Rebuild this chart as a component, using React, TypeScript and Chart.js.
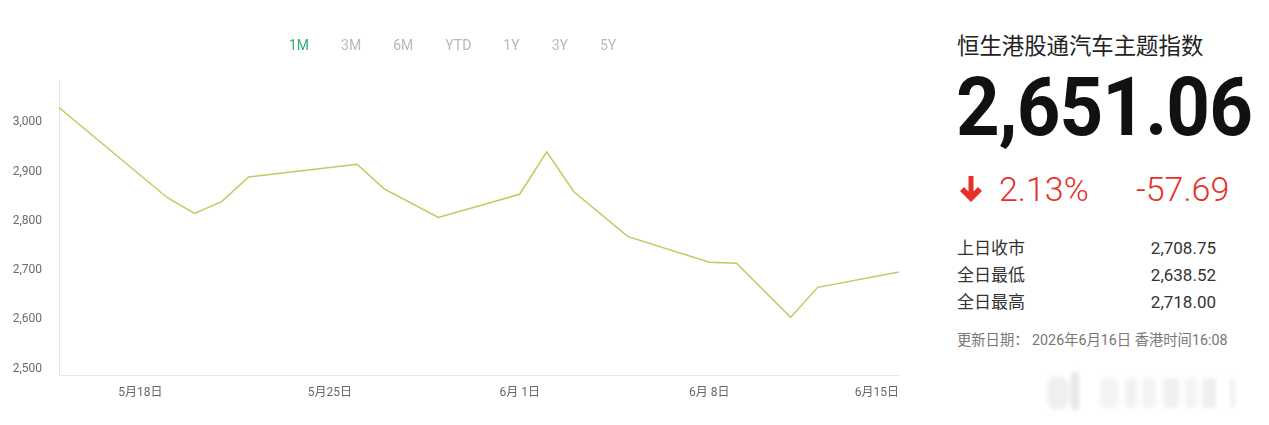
import React, { useEffect, useRef } from "react";
import { Chart, registerables } from "chart.js";

Chart.register(...registerables);

// ---- data ----
const dates: string[] = [
  "2026-05-15", "2026-05-19", "2026-05-20", "2026-05-21", "2026-05-22",
  "2026-05-26", "2026-05-27", "2026-05-29", "2026-06-01", "2026-06-02",
  "2026-06-03", "2026-06-05", "2026-06-08", "2026-06-09", "2026-06-11",
  "2026-06-12", "2026-06-15",
];
const values: number[] = [
  3030, 2847, 2815, 2839, 2889,
  2915, 2865, 2807, 2854, 2940,
  2859, 2768, 2716, 2714, 2604,
  2665, 2696,
];
const xTickDates: string[] = ["2026-05-18", "2026-05-25", "2026-06-01", "2026-06-08", "2026-06-15"];
const xTickLabels: string[] = ["5月18日", "5月25日", "6月 1日", "6月 8日", "6月15日"];
const yTickValues: number[] = [2500, 2600, 2700, 2800, 2900, 3000];
const yMin = 2487;
const yMax = 3086;

const tabs: string[] = ["1M", "3M", "6M", "YTD", "1Y", "3Y", "5Y"];
const title = "恒生港股通汽车主题指数";
const lastPrice = "2,651.06";
const changePct = "2.13%";
const changeAbs = "-57.69";
const statLabels: string[] = ["上日收市", "全日最低", "全日最高"];
const statValues: string[] = ["2,708.75", "2,638.52", "2,718.00"];
const updateText = "更新日期： 2026年6月16日 香港时间16:08";

const baseDay = Date.parse(dates[0] + "T00:00:00Z");
const dayIndex = (d: string) => Math.round((Date.parse(d + "T00:00:00Z") - baseDay) / 86400000);

const FONT = "Roboto, 'Noto Sans CJK SC', sans-serif";

function PriceChart() {
  const ref = useRef<HTMLCanvasElement | null>(null);
  useEffect(() => {
    if (!ref.current) return;
    const lastDay = dayIndex(dates[dates.length - 1]);
    const chart = new Chart(ref.current, {
      type: "line",
      data: {
        datasets: [
          {
            data: dates.map((d, i) => ({ x: dayIndex(d), y: values[i] })),
            borderColor: "#b0d35e",
            borderWidth: 1.5,
            pointRadius: 0,
            tension: 0,
            fill: false,
          },
        ],
      },
      options: {
        animation: false,
        responsive: true,
        maintainAspectRatio: false,
        layout: { padding: { top: 80, right: 21, left: 0, bottom: 0 } },
        plugins: { legend: { display: false }, tooltip: { enabled: false } },
        scales: {
          x: {
            type: "linear",
            min: 0,
            max: lastDay,
            grid: { color: "transparent", drawTicks: false },
            border: { color: "#e6e6e6", width: 1 },
            afterBuildTicks: (scale: any) => {
              scale.ticks = [{ value: 0 }, ...xTickDates.map((d) => ({ value: dayIndex(d) }))];
            },
            afterFit: (scale: any) => {
              scale.height = 50;
            },
            ticks: {
              align: "inner",
              padding: 11,
              color: "#666",
              font: { size: 12, family: FONT },
              maxRotation: 0,
              autoSkip: false,
              callback: (_v: any, index: number) => (index === 0 ? "" : xTickLabels[index - 1]),
            },
          },
          y: {
            min: yMin,
            max: yMax,
            grid: { color: "transparent", drawTicks: false },
            border: { color: "#e6e6e6", width: 1 },
            afterBuildTicks: (scale: any) => {
              scale.ticks = yTickValues.map((v) => ({ value: v }));
            },
            afterFit: (scale: any) => {
              scale.width = 59;
            },
            ticks: {
              padding: 17,
              color: "#6a6a6a",
              font: { size: 12, family: FONT },
              callback: (v: any) => Number(v).toLocaleString("en-US"),
            },
          },
        },
      },
    } as any);
    return () => chart.destroy();
  }, []);
  return (
    <div style={{ position: "absolute", left: 0, top: 0, width: 920, height: 425 }}>
      <canvas ref={ref} />
    </div>
  );
}

export default function App() {
  return (
    <div
      style={{
        position: "absolute",
        left: 0,
        top: 0,
        width: 1269,
        height: 425,
        background: "#fff",
        fontFamily: FONT,
        overflow: "hidden",
      }}
    >
      <PriceChart />
      <div
        style={{
          position: "absolute",
          left: 289,
          top: 36,
          display: "flex",
          gap: 32,
          fontSize: 14,
          lineHeight: "18px",
        }}
      >
        {tabs.map((t, i) => (
          <span key={t} style={{ color: i === 0 ? "#2fb073" : "#b8b8b8" }}>
            {t}
          </span>
        ))}
      </div>

      <div style={{ position: "absolute", left: 957, top: 34, fontSize: 22.4, lineHeight: "24px", color: "#222" }}>
        {title}
      </div>
      <div
        style={{
          position: "absolute",
          left: 956,
          top: 66,
          fontSize: 82,
          lineHeight: "82px",
          fontWeight: 700,
          color: "#111",
          letterSpacing: -1,
          whiteSpace: "nowrap",
          transform: "scaleX(0.93)",
          transformOrigin: "left top",
        }}
      >
        {lastPrice}
      </div>
      <svg
        style={{ position: "absolute", left: 958, top: 175 }}
        width={26}
        height={28}
        viewBox="0 0 26 28"
      >
        <path d="M13 27 L2 16 L6 12 L10.5 16.5 L10.5 1 L15.5 1 L15.5 16.5 L20 12 L24 16 Z" fill="#e8302a" />
      </svg>
      <div
        style={{
          position: "absolute",
          left: 999,
          top: 172,
          fontSize: 34,
          lineHeight: "34px",
          fontWeight: 300,
          color: "#e8302a",
        }}
      >
        {changePct}
      </div>
      <div
        style={{
          position: "absolute",
          left: 1136,
          top: 172,
          fontSize: 34,
          lineHeight: "34px",
          fontWeight: 300,
          color: "#e8302a",
        }}
      >
        {changeAbs}
      </div>

      {statLabels.map((l, i) => (
        <React.Fragment key={l}>
          <div
            style={{
              position: "absolute",
              left: 957,
              top: 238 + i * 27,
              fontSize: 17,
              lineHeight: "20px",
              color: "#333",
            }}
          >
            {l}
          </div>
          <div
            style={{
              position: "absolute",
              right: 1269 - 1216,
              top: 238 + i * 27,
              fontSize: 17,
              lineHeight: "20px",
              color: "#333",
              textAlign: "right",
            }}
          >
            {statValues[i]}
          </div>
        </React.Fragment>
      ))}

      <div
        style={{
          position: "absolute",
          left: 957,
          top: 331,
          fontSize: 14.3,
          lineHeight: "18px",
          color: "#777",
          whiteSpace: "pre",
        }}
      >
        {updateText}
      </div>

      {/* faint blurred watermark shapes */}
      <div style={{ position: "absolute", left: 1045, top: 372, width: 200, height: 40, filter: "blur(2px)" }}>
        <div style={{ position: "absolute", left: 2, top: 4, width: 22, height: 34, borderRadius: 10, background: "#efefef" }} />
        <div style={{ position: "absolute", left: 26, top: 0, width: 8, height: 38, borderRadius: 4, background: "#e6e6e6" }} />
        <div style={{ position: "absolute", left: 55, top: 6, width: 18, height: 30, borderRadius: 4, background: "#f3f3f3" }} />
        <div style={{ position: "absolute", left: 80, top: 6, width: 12, height: 30, borderRadius: 4, background: "#f2f2f2" }} />
        <div style={{ position: "absolute", left: 97, top: 6, width: 14, height: 30, borderRadius: 4, background: "#f3f3f3" }} />
        <div style={{ position: "absolute", left: 118, top: 6, width: 16, height: 30, borderRadius: 4, background: "#f0f0f0" }} />
        <div style={{ position: "absolute", left: 140, top: 6, width: 12, height: 30, borderRadius: 4, background: "#f3f3f3" }} />
        <div style={{ position: "absolute", left: 157, top: 6, width: 14, height: 30, borderRadius: 4, background: "#efefef" }} />
        <div style={{ position: "absolute", left: 185, top: 6, width: 5, height: 30, borderRadius: 2, background: "#f0f0f0" }} />
      </div>
    </div>
  );
}
